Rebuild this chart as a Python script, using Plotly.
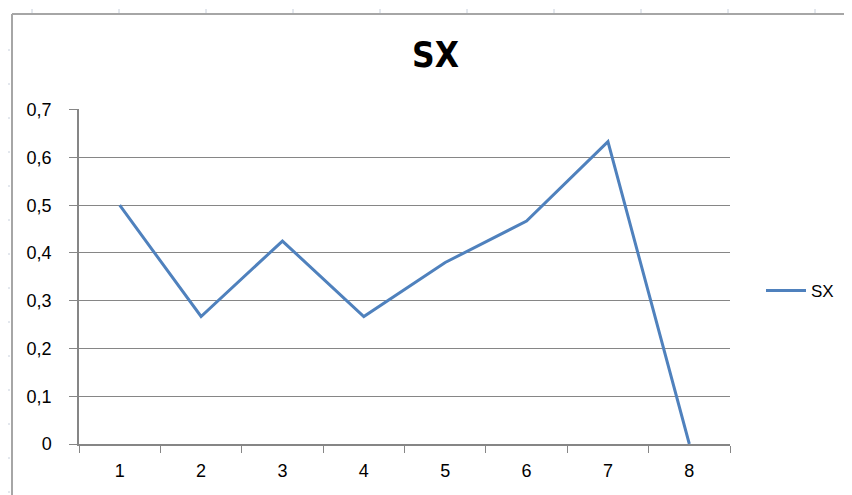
import plotly.graph_objects as go

categories = ["1", "2", "3", "4", "5", "6", "7", "8"]
sx_values = [0.5, 0.267, 0.425, 0.267, 0.38, 0.467, 0.633, 0.0]
y_tickvals = [0, 0.1, 0.2, 0.3, 0.4, 0.5, 0.6, 0.7]
y_ticktext = ["0", "0,1", "0,2", "0,3", "0,4", "0,5", "0,6", "0,7"]

# page body has an 8px margin; compensate so the plot lands where the reference has it
OFF = 8
W, H = 852, 495
L, T = 79 - OFF, 109 - OFF
pw, ph = 651, 335
R, B = W - L - pw, H - T - ph

def px_x(x):
    return (x - OFF - L) / pw

def px_y(y):
    return (T + ph - (y - OFF)) / ph

fig = go.Figure()
fig.add_trace(go.Scatter(
    x=categories, y=sx_values, mode="lines", name="SX",
    line=dict(color="#4F81BD", width=3),
))

font = "Liberation Sans, Arial, sans-serif"
title_font = "Liberation Sans Narrow, DejaVu Sans Condensed, Liberation Sans, sans-serif"
shapes = [
    dict(type="line", xref="paper", yref="paper", x0=px_x(12), x1=px_x(870), y0=px_y(14), y1=px_y(14),
         line=dict(color="#A6A6A6", width=2)),
    dict(type="line", xref="paper", yref="paper", x0=px_x(12), x1=px_x(12), y0=px_y(14), y1=px_y(510),
         line=dict(color="#A6A6A6", width=2)),
]
for gx in [32, 119, 206, 293, 380, 467, 554, 641, 728, 815]:
    shapes.append(dict(type="line", xref="paper", yref="paper", x0=px_x(gx), x1=px_x(gx),
                       y0=px_y(9), y1=px_y(13), line=dict(color="#C8D0DC", width=1)))
for gy in [50, 84, 118, 152, 186, 220, 254, 288, 322, 356, 390, 424, 458, 492]:
    shapes.append(dict(type="line", xref="paper", yref="paper", x0=px_x(6), x1=px_x(10),
                       y0=px_y(gy), y1=px_y(gy), line=dict(color="#C8D0DC", width=1)))

fig.update_layout(
    width=W, height=H,
    margin=dict(l=L, r=R, t=T, b=B),
    paper_bgcolor="white", plot_bgcolor="white",
    title=dict(text="<b>SX</b>", x=(435.5 - OFF) / W, xanchor="center", y=1 - (55 - OFF) / H, yanchor="middle",
               font=dict(family=title_font, size=35, color="black")),
    showlegend=True,
    legend=dict(x=px_x(761), xanchor="left", y=px_y(291), yanchor="middle",
                font=dict(family=font, size=17, color="black"), bgcolor="rgba(0,0,0,0)",
                itemwidth=40),
    xaxis=dict(type="category", tickson="boundaries", ticks="outside", ticklen=7,
               tickcolor="#868686", showline=True, linecolor="#868686", linewidth=1.5,
               showgrid=False, tickfont=dict(family=font, size=18, color="black"),
               ticklabelstandoff=10, range=[-0.5, 7.5], fixedrange=True),
    yaxis=dict(range=[0, 0.7015], tickvals=y_tickvals, ticktext=y_ticktext, ticks="outside",
               ticklen=8, tickcolor="#868686", showline=True, linecolor="#868686", linewidth=1.5,
               showgrid=True, gridcolor="#868686", gridwidth=1.2, zeroline=False,
               ticklabelstandoff=14, tickfont=dict(family=font, size=18, color="black")),
    shapes=shapes,
)

fig.write_html("out.html")
